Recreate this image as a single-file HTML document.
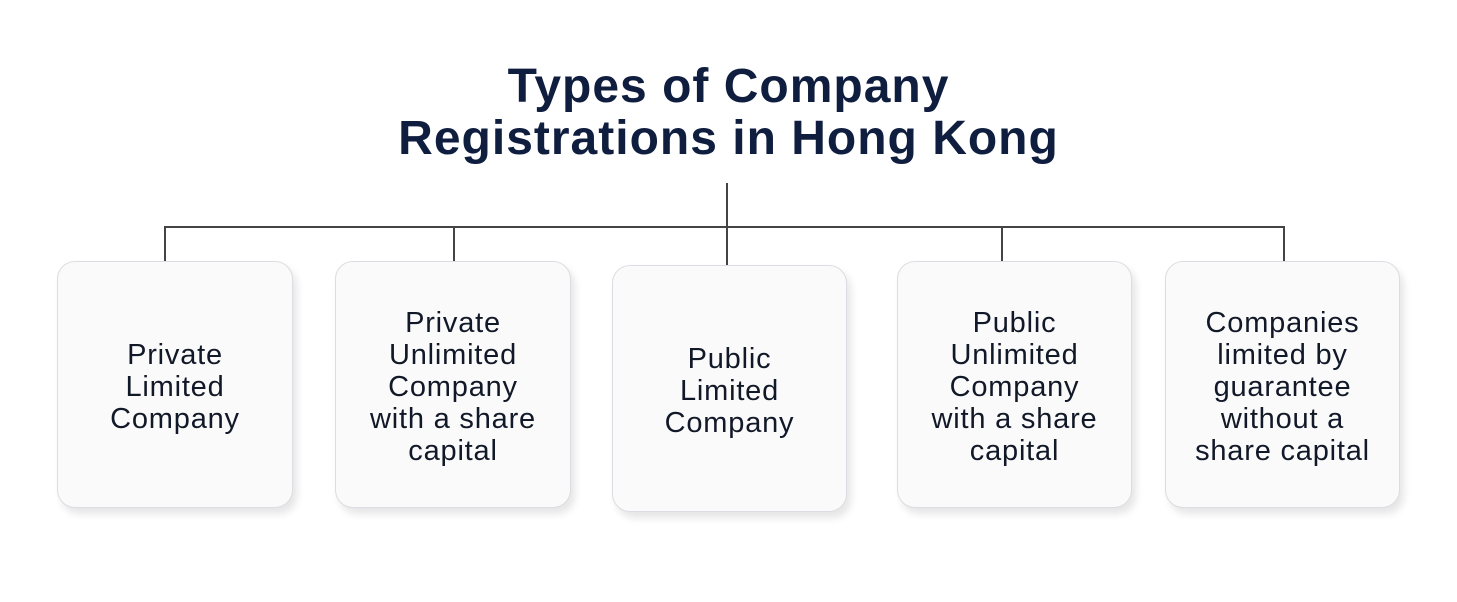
<!DOCTYPE html>
<html><head><meta charset="utf-8"><style>
body{margin:0;width:1457px;height:602px;background:#fff;position:relative;overflow:hidden;font-family:"Liberation Sans",sans-serif}
.t{position:absolute;left:0;width:1457px;text-align:center;font-weight:bold;font-size:48px;color:#0f1d3f;letter-spacing:1.0px;line-height:52px;top:61px}
.b{position:absolute;width:233px;height:244px;border:1px solid #dcdce2;border-radius:18px;background:#fafafb;box-shadow:4px 6px 8px rgba(0,0,0,0.10);display:flex;align-items:center;justify-content:center;text-align:center;font-size:29px;letter-spacing:0.8px;line-height:32px;color:#111827;box-sizing:border-box;padding-top:4px}
.l{position:absolute;background:#444}
</style></head><body>
<div class="t">Types of Company<br>Registrations in Hong Kong</div>
<div class="l" style="left:726px;top:183px;width:1.5px;height:82px"></div>
<div class="l" style="left:164px;top:226px;width:1121px;height:1.5px"></div>
<div class="l" style="left:164px;top:226px;width:1.5px;height:35px"></div>
<div class="l" style="left:453px;top:226px;width:1.5px;height:35px"></div>
<div class="l" style="left:1001px;top:226px;width:1.5px;height:35px"></div>
<div class="l" style="left:1283px;top:226px;width:1.5px;height:35px"></div>
<div class="b" style="left:57px;top:261px;width:236px;height:247px">Private<br>Limited<br>Company</div>
<div class="b" style="left:335px;top:261px;width:236px;height:247px">Private<br>Unlimited<br>Company<br>with a share<br>capital</div>
<div class="b" style="left:612px;top:265px;width:235px;height:247px">Public<br>Limited<br>Company</div>
<div class="b" style="left:897px;top:261px;width:235px;height:247px">Public<br>Unlimited<br>Company<br>with a share<br>capital</div>
<div class="b" style="left:1165px;top:261px;width:235px;height:247px">Companies<br>limited by<br>guarantee<br>without a<br>share capital</div>
</body></html>
